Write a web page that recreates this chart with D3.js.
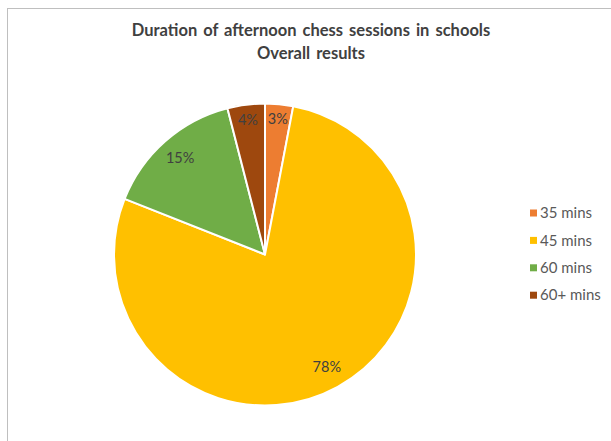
<!DOCTYPE html>
<html>
<head>
<meta charset="utf-8">
<script src="https://cdn.jsdelivr.net/npm/d3@7"></script>
<style>
  html, body { margin: 0; padding: 0; background: #fff; }
  svg { display: block; }
</style>
</head>
<body>
<svg id="chart" width="611" height="441"></svg>
<script>
// Session durations and their share of schools (percent)
const categories = ["35 mins", "45 mins", "60 mins", "60+ mins"];
const shares = [3, 78, 15, 4];
const colors = ["#ED7D31", "#FFC000", "#70AD47", "#9E480E"];
const titleLines = ["Duration of afternoon chess sessions in schools", "Overall results"];

const width = 611, height = 441;
const svg = d3.select("#chart");
const font = "Lato, 'Open Sans', sans-serif";

// Chart area frame
svg.append("rect")
  .attr("x", 7.5).attr("y", 8.5)
  .attr("width", width + 10).attr("height", height + 10)
  .attr("fill", "#fff").attr("stroke", "#bfbfbf").attr("stroke-width", 1);

// Title
svg.append("g").selectAll("text")
  .data(titleLines)
  .join("text")
  .attr("x", 311)
  .attr("y", (d, i) => 36 + i * 22.5)
  .attr("text-anchor", "middle")
  .attr("font-family", font)
  .attr("font-weight", "bold")
  .attr("font-size", 16.5)
  .attr("word-spacing", 2)
  .attr("fill", "#404040")
  .text(d => d);

// Pie
const cx = 265, cy = 254.5, radius = 151;
const data = categories.map((c, i) => ({ category: c, value: shares[i], color: colors[i] }));

const pie = d3.pie().value(d => d.value).sort(null);
const arcs = pie(data);
const arc = d3.arc().innerRadius(0).outerRadius(radius);

const g = svg.append("g").attr("transform", `translate(${cx},${cy})`);

g.selectAll("path")
  .data(arcs)
  .join("path")
  .attr("d", arc)
  .attr("fill", d => d.data.color)
  .attr("stroke", "#fff")
  .attr("stroke-width", 2)
  .attr("stroke-linejoin", "round");

// Data labels, small slices pushed towards the rim
const labelArc = d => {
  const r = d.data.value < 10 ? radius * 0.9 : radius * 0.85;
  return d3.arc().innerRadius(r).outerRadius(r).centroid(d);
};

g.selectAll("text.label")
  .data(arcs)
  .join("text")
  .attr("class", "label")
  .attr("transform", d => `translate(${labelArc(d)})`)
  .attr("text-anchor", "middle")
  .attr("dy", "0.35em")
  .attr("font-family", font)
  .attr("font-size", 14.5)
  .attr("fill", "#404040")
  .text(d => d.data.value + "%");

// Legend
const legend = svg.append("g").attr("transform", "translate(530,213)");
const rows = legend.selectAll("g")
  .data(data)
  .join("g")
  .attr("transform", (d, i) => `translate(0,${i * 27.4})`);

rows.append("rect")
  .attr("x", 0).attr("y", -3.5)
  .attr("width", 7).attr("height", 7)
  .attr("fill", d => d.color);

rows.append("text")
  .attr("x", 10)
  .attr("dy", "0.35em")
  .attr("font-family", font)
  .attr("font-size", 15)
  .attr("fill", "#595959")
  .text(d => d.category);
</script>
</body>
</html>
